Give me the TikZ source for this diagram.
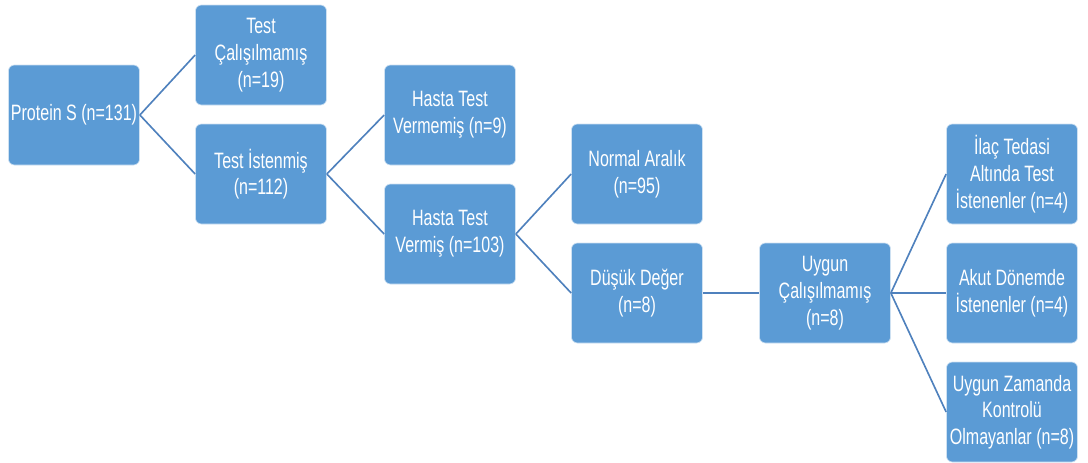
\documentclass[tikz,border=0pt]{standalone}
\usepackage{fontspec}
\setmainfont{Liberation Sans}[FakeStretch=0.72]
\definecolor{boxblue}{HTML}{5B9BD5}
\definecolor{linkblue}{HTML}{4F81BD}
\begin{document}
\begin{tikzpicture}[x=0.03cm,y=-0.03cm,
  box/.style={rectangle, rounded corners=5pt, fill=boxblue, draw=white!70!boxblue, line width=0.6pt,
    minimum width=131*0.03cm, minimum height=100*0.03cm, inner sep=2pt,
    text=white, align=center, font=\fontsize{19}{22.8}\selectfont},
  link/.style={draw=linkblue, line width=1.4pt}]
\useasboundingbox (0,0) rectangle (1088,462);
% first level
\node[box] (root) at (74,115) {Protein S (n=131)};
% second level
\node[box] (notrun) at (261,55) {Test\\Çalışılmamış\\(n=19)};
\node[box] (asked) at (261,174) {Test İstenmiş\\(n=112)};
% third level
\node[box] (nogive) at (450,115) {Hasta Test\\Vermemiş (n=9)};
\node[box] (gave) at (450,234) {Hasta Test\\Vermiş (n=103)};
% fourth level
\node[box] (normal) at (637,174) {Normal Aralık\\(n=95)};
\node[box] (low) at (637,293) {Düşük Değer\\(n=8)};
% fifth level
\node[box] (improper) at (825,293) {Uygun\\Çalışılmamış\\(n=8)};
% sixth level
\node[box] (drug) at (1012,174) {İlaç Tedasi\\Altında Test\\İstenenler (n=4)};
\node[box] (acute) at (1012,293) {Akut Dönemde\\İstenenler (n=4)};
\node[box] (nocontrol) at (1012,412) {Uygun Zamanda\\Kontrolü\\Olmayanlar (n=8)};
% connectors
\draw[link] (root.east) -- (notrun.west);
\draw[link] (root.east) -- (asked.west);
\draw[link] (asked.east) -- (nogive.west);
\draw[link] (asked.east) -- (gave.west);
\draw[link] (gave.east) -- (normal.west);
\draw[link] (gave.east) -- (low.west);
\draw[link] (low.east) -- (improper.west);
\draw[link] (improper.east) -- (drug.west);
\draw[link] (improper.east) -- (acute.west);
\draw[link] (improper.east) -- (nocontrol.west);
\end{tikzpicture}
\end{document}
